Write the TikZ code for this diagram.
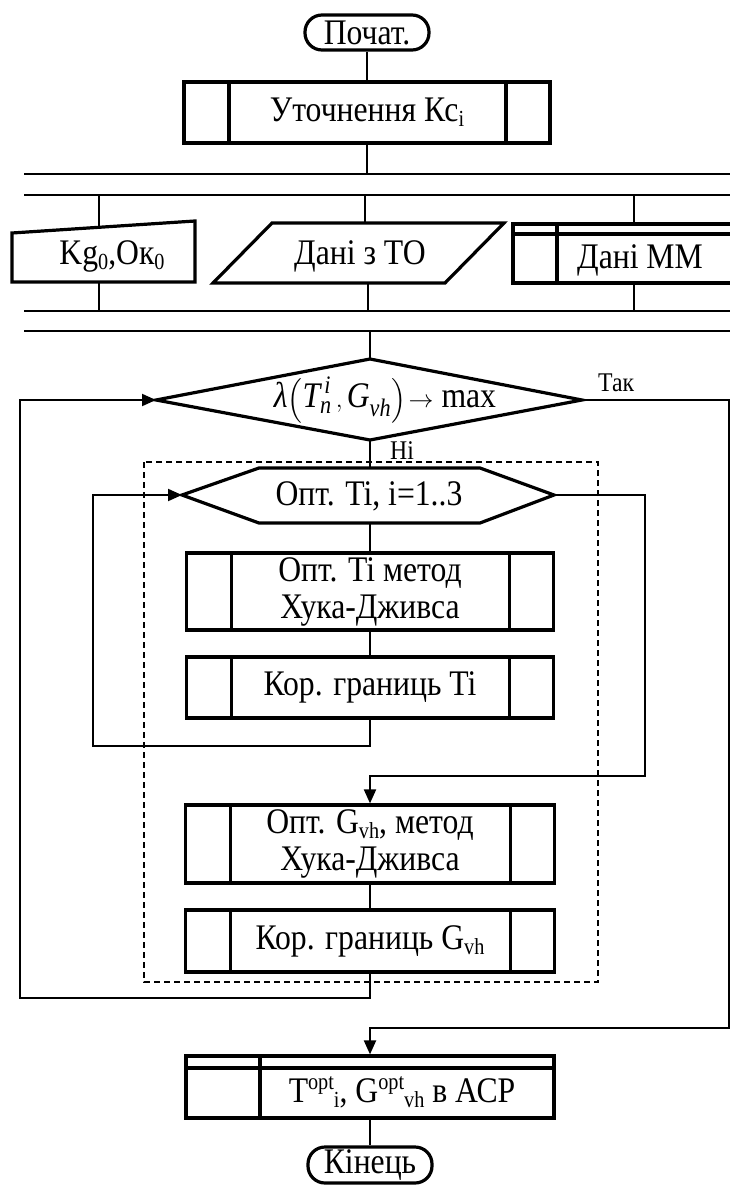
\documentclass[tikz,border=0pt]{standalone}
\usepackage{fontspec}
\usepackage{amsmath}
\setmainfont{Liberation Serif}[FakeStretch=0.88]
\usetikzlibrary{arrows.meta}
\newcommand{\lo}[1]{\raisebox{-0.14em}{\fontsize{23}{23}\selectfont #1}}
\newcommand{\hi}[1]{\raisebox{0.36em}{\fontsize{23}{23}\selectfont #1}}
\begin{document}
\begin{tikzpicture}[x=1pt,y=-1pt,
  thickline/.style={line width=3.2pt},
  conn/.style={line width=2pt},
  arr/.style={line width=2pt,-{Triangle[length=14pt,width=12pt]}},
  txt/.style={font=\fontsize{36}{37}\selectfont, inner sep=0pt, align=center},
  lbl/.style={font=\fontsize{27}{30}\selectfont, inner sep=0pt},
  term/.style={draw, line width=3.2pt, rounded corners=17pt, minimum width=124pt,
    minimum height=35pt, inner sep=0pt, font=\fontsize{36}{37}\selectfont},
  subbox/.style={draw, line width=3.2pt, inner sep=0pt, align=center,
    font=\fontsize{36}{37}\selectfont,
    path picture={
      \draw[line width=3.2pt] ([xshift=45pt]path picture bounding box.north west) -- ([xshift=45pt]path picture bounding box.south west);
      \draw[line width=3.2pt] ([xshift=-44pt]path picture bounding box.north east) -- ([xshift=-44pt]path picture bounding box.south east);
    }},
  outbox/.style={draw, line width=3.2pt, inner sep=0pt,
    path picture={
      \draw[line width=3.2pt] ([yshift=-12pt]path picture bounding box.north west) -- ([yshift=-12pt]path picture bounding box.north east);
      \draw[line width=3.2pt] ([xshift=74pt]path picture bounding box.north west) -- ([xshift=74pt]path picture bounding box.south west);
    }},
  dashbox/.style={line width=1.3pt, dash pattern=on 6pt off 4pt}
]
\useasboundingbox (0,0) rectangle (730,1185);
\fill[white] (0,0) rectangle (730,1185);
\clip (0,0) rectangle (730,1185);

% ---- top part ----
\node[term] (start) at (367,32.5) {Почат.};
\node[subbox, minimum width=366pt, minimum height=61pt] (utoch) at (367,112.5) {Уточнення Кс\lo{i}};

% bars
\coordinate (b1) at (24,174);
\coordinate (b2) at (24,195);
\coordinate (b3) at (24,311);
\coordinate (b4) at (24,331);
\foreach \b in {b1,b2,b3,b4} \draw[conn] (\b) -- ++(720,0);

\draw[conn] (start) -- (utoch);
\draw[conn] (utoch.south) -- (utoch.south |- b1);

% manual input
\coordinate (kgA) at (12,233);
\coordinate (kgB) at (195,221);
\coordinate (kgC) at (195,282);
\coordinate (kgD) at (12,282);
\draw[thickline] (kgA) -- (kgB) -- (kgC) -- (kgD) -- cycle;
\node[txt] (kg) at (112,256) {Kg\lo{0},Oк\lo{0}};
\coordinate (kgtop) at (99,227.3);
\coordinate (kgbot) at (99,282);

% parallelogram
\coordinate (pA) at (213,283);
\coordinate (pB) at (272,223);
\coordinate (pC) at (504,223);
\coordinate (pD) at (445,283);
\draw[thickline] (pA) -- (pB) -- (pC) -- (pD) -- cycle;
\node[txt] (to) at (360,256) {Дані з ТО};
\coordinate (totop) at (365,223);
\coordinate (tobot) at (368,283);

% stored data box (MM)
\coordinate (mA) at (513,224);
\coordinate (mB) at (513,283);
\draw[thickline] (745,224) -- (mA) -- (mB) -- (745,283);
\draw[thickline] (513,234) -- (745,234);
\draw[thickline] (557,224) -- (557,283);
\node[txt] (mm) at (640,260) {Дані ММ};
\coordinate (mmtop) at (634,224);
\coordinate (mmbot) at (634,283);

\draw[conn] (kgtop) -- (kgtop |- b2);
\draw[conn] (totop) -- (totop |- b2);
\draw[conn] (mmtop) -- (mmtop |- b2);
\draw[conn] (kgbot) -- (kgbot |- b3);
\draw[conn] (tobot) -- (tobot |- b3);
\draw[conn] (mmbot) -- (mmbot |- b3);

% ---- decision ----
\coordinate (dL) at (156,400);
\coordinate (dT) at (370,359);
\coordinate (dR) at (582,400);
\coordinate (dB) at (370,440);
\draw[thickline] (dL) -- (dT) -- (dR) -- (dB) -- cycle;
\node[txt] (cond) at (385,400) {{\itshape λ}$\Bigl(\textit{T}^{\,\textit{i}}_{\textit{n}}\,,\textit{G}_{\textit{vh}}\Bigr)\!\rightarrow$ max};
\draw[conn] (dT |- b4) -- (dT);
\node[lbl, anchor=base west] (yes) at (598,391) {Так};
\node[lbl, anchor=base west] (no) at (390,459) {Ні};

% dashed frame
\draw[dashbox] (144,462) rectangle (598,982);

% ---- hexagon loop ----
\coordinate (hL) at (182,495);
\coordinate (hTL) at (259,468);
\coordinate (hTR) at (480,468);
\coordinate (hR) at (554,495);
\coordinate (hBR) at (480,523);
\coordinate (hBL) at (259,523);
\coordinate (hT) at (370,468);
\coordinate (hB) at (370,523);
\draw[thickline] (hL) -- (hTL) -- (hTR) -- (hR) -- (hBR) -- (hBL) -- cycle;
\node[txt] (loop) at (369,496) {Опт. Ti, i=1..3};
\draw[conn] (dB) -- (hT);

\node[subbox, minimum width=367pt, minimum height=77pt] (ti1) at (370,591.5) {Опт. Ti метод\\Хука-Дживса};
\node[subbox, minimum width=367pt, minimum height=61pt] (ti2) at (370,687.5) {Кор. границь Ti};
\node[subbox, minimum width=369pt, minimum height=78pt] (g1) at (370,844) {Опт. G\lo{vh}, метод\\Хука-Дживса};
\node[subbox, minimum width=369pt, minimum height=62pt] (g2) at (370,941) {Кор. границь G\lo{vh}};

\draw[conn] (hB) -- (ti1);
\draw[conn] (ti1) -- (ti2);
\draw[conn] (g1) -- (g2);

\coordinate (l1) at (93,746);
\coordinate (l2) at (93,495);
\draw[arr] (ti2.south) |- (l1) -- (l2) -- (hL);

\coordinate (r1) at (645,495);
\coordinate (r2) at (645,776);
\draw[arr] (hR) -- (r1) -- (r2) -| (g1.north);

\coordinate (o1) at (20,998);
\coordinate (o2) at (20,400);
\draw[arr] (g2.south) |- (o1) -- (o2) -- (dL);

% ---- output ----
\node[outbox, minimum width=368pt, minimum height=62pt] (acp) at (370,1087) {};
\node[txt] (acptxt) at (402,1092) {T\hi{opt}\lo{i}, G\hi{opt}\lo{vh} в АСР};

\coordinate (y1) at (729,400);
\coordinate (y2) at (729,1028);
\draw[arr] (dR) -- (y1) -- (y2) -| (acp.north);

\node[term, minimum height=36pt] (stop) at (370,1165) {Кінець};
\draw[conn] (acp) -- (stop);
\end{tikzpicture}
\end{document}
